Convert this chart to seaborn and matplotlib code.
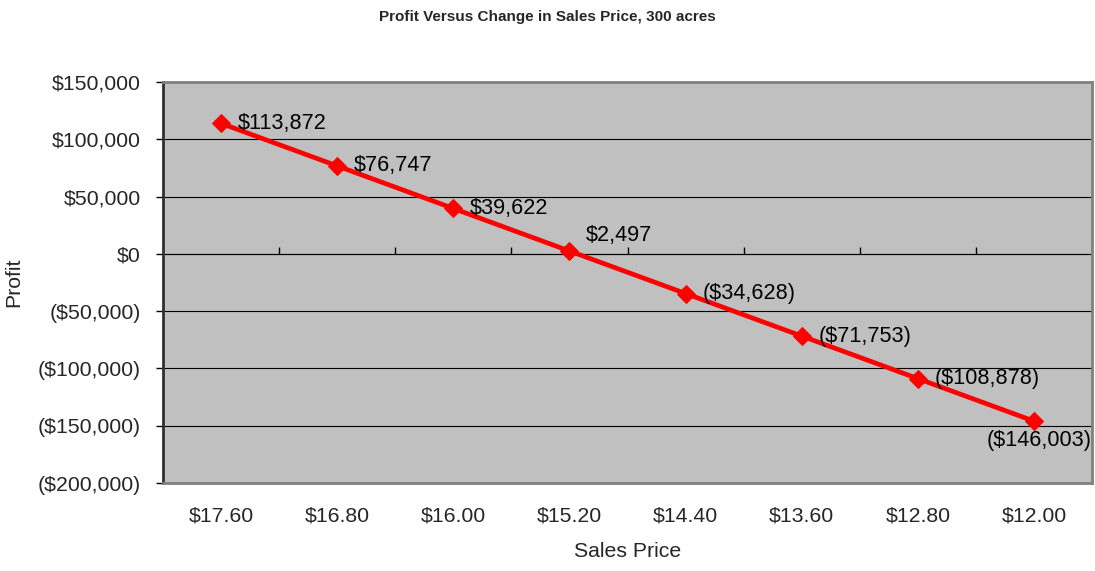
import numpy as np
import seaborn as sns
import matplotlib.pyplot as plt
from matplotlib.ticker import FuncFormatter

prices = ["$17.60", "$16.80", "$16.00", "$15.20", "$14.40", "$13.60", "$12.80", "$12.00"]
profit = [113872, 76747, 39622, 2497, -34628, -71753, -108878, -146003]
y_ticks = [-200000, -150000, -100000, -50000, 0, 50000, 100000, 150000]


def money(v):
    v = int(round(v))
    if v < 0:
        return f"(${-v:,})"
    return f"${v:,}"


sns.set_style("white")
plt.rcParams["font.family"] = ["Liberation Sans", "DejaVu Sans"]

fig = plt.figure(figsize=(10.95, 5.71), dpi=100)
ax = fig.add_axes([0.1489, 0.1541, 0.8484, 0.7023])
ax.set_facecolor("#C0C0C0")

sns.lineplot(x=prices, y=profit, ax=ax, color="#FF0000", linewidth=3.4,
             marker="D", markersize=9, markeredgecolor="#FF0000", zorder=3)

ax.set_xlim(-0.5, len(prices) - 0.5)
ax.set_ylim(y_ticks[0], y_ticks[-1])
ax.set_yticks(y_ticks)
ax.yaxis.set_major_formatter(FuncFormatter(lambda v, p: money(v)))
ax.grid(axis="y", color="black", linewidth=0.8)
ax.grid(axis="x", visible=False)
ax.set_axisbelow(True)

ax.tick_params(axis="y", direction="out", length=5, width=1, color="black",
               labelsize=15.3, pad=11, left=True)
ax.tick_params(axis="x", length=0, labelsize=15.3, pad=17)

for side in ["top", "right", "bottom"]:
    ax.spines[side].set_color("#808080")
    ax.spines[side].set_linewidth(2)
ax.spines["left"].set_color("#303030")
ax.spines["left"].set_linewidth(2)

# category tick marks sitting on the zero line
frac = (0 - y_ticks[0]) / (y_ticks[-1] - y_ticks[0])
sec = ax.secondary_xaxis(frac)
sec.set_xticks(np.arange(0.5, len(prices) - 1, 1.0))
sec.set_xticklabels([])
sec.tick_params(direction="out", length=5, width=1, color="black")
sec.spines["bottom"].set_color("black")
sec.spines["bottom"].set_linewidth(0.8)

# data labels
for i, v in enumerate(profit):
    dx, dy, ha = 12, 0, "left"
    if i == 3:
        dx, dy = 12, 11.5
    if i == len(profit) - 1:
        dx, dy, ha = 4, -14, "center"
    ax.annotate(money(v), (i, v), xytext=(dx, dy), textcoords="offset points",
                ha=ha, va="center", fontsize=15.6, color="black", zorder=4)

ax.set_xlabel("Sales Price", fontsize=15.3, labelpad=12)
ax.set_ylabel("Profit", fontsize=15.3, labelpad=10)
fig.text(0.5, 0.97, "Profit Versus Change in Sales Price, 300 acres",
         ha="center", va="center", fontsize=11, fontweight="bold")

fig.savefig("out.png", dpi=100)
